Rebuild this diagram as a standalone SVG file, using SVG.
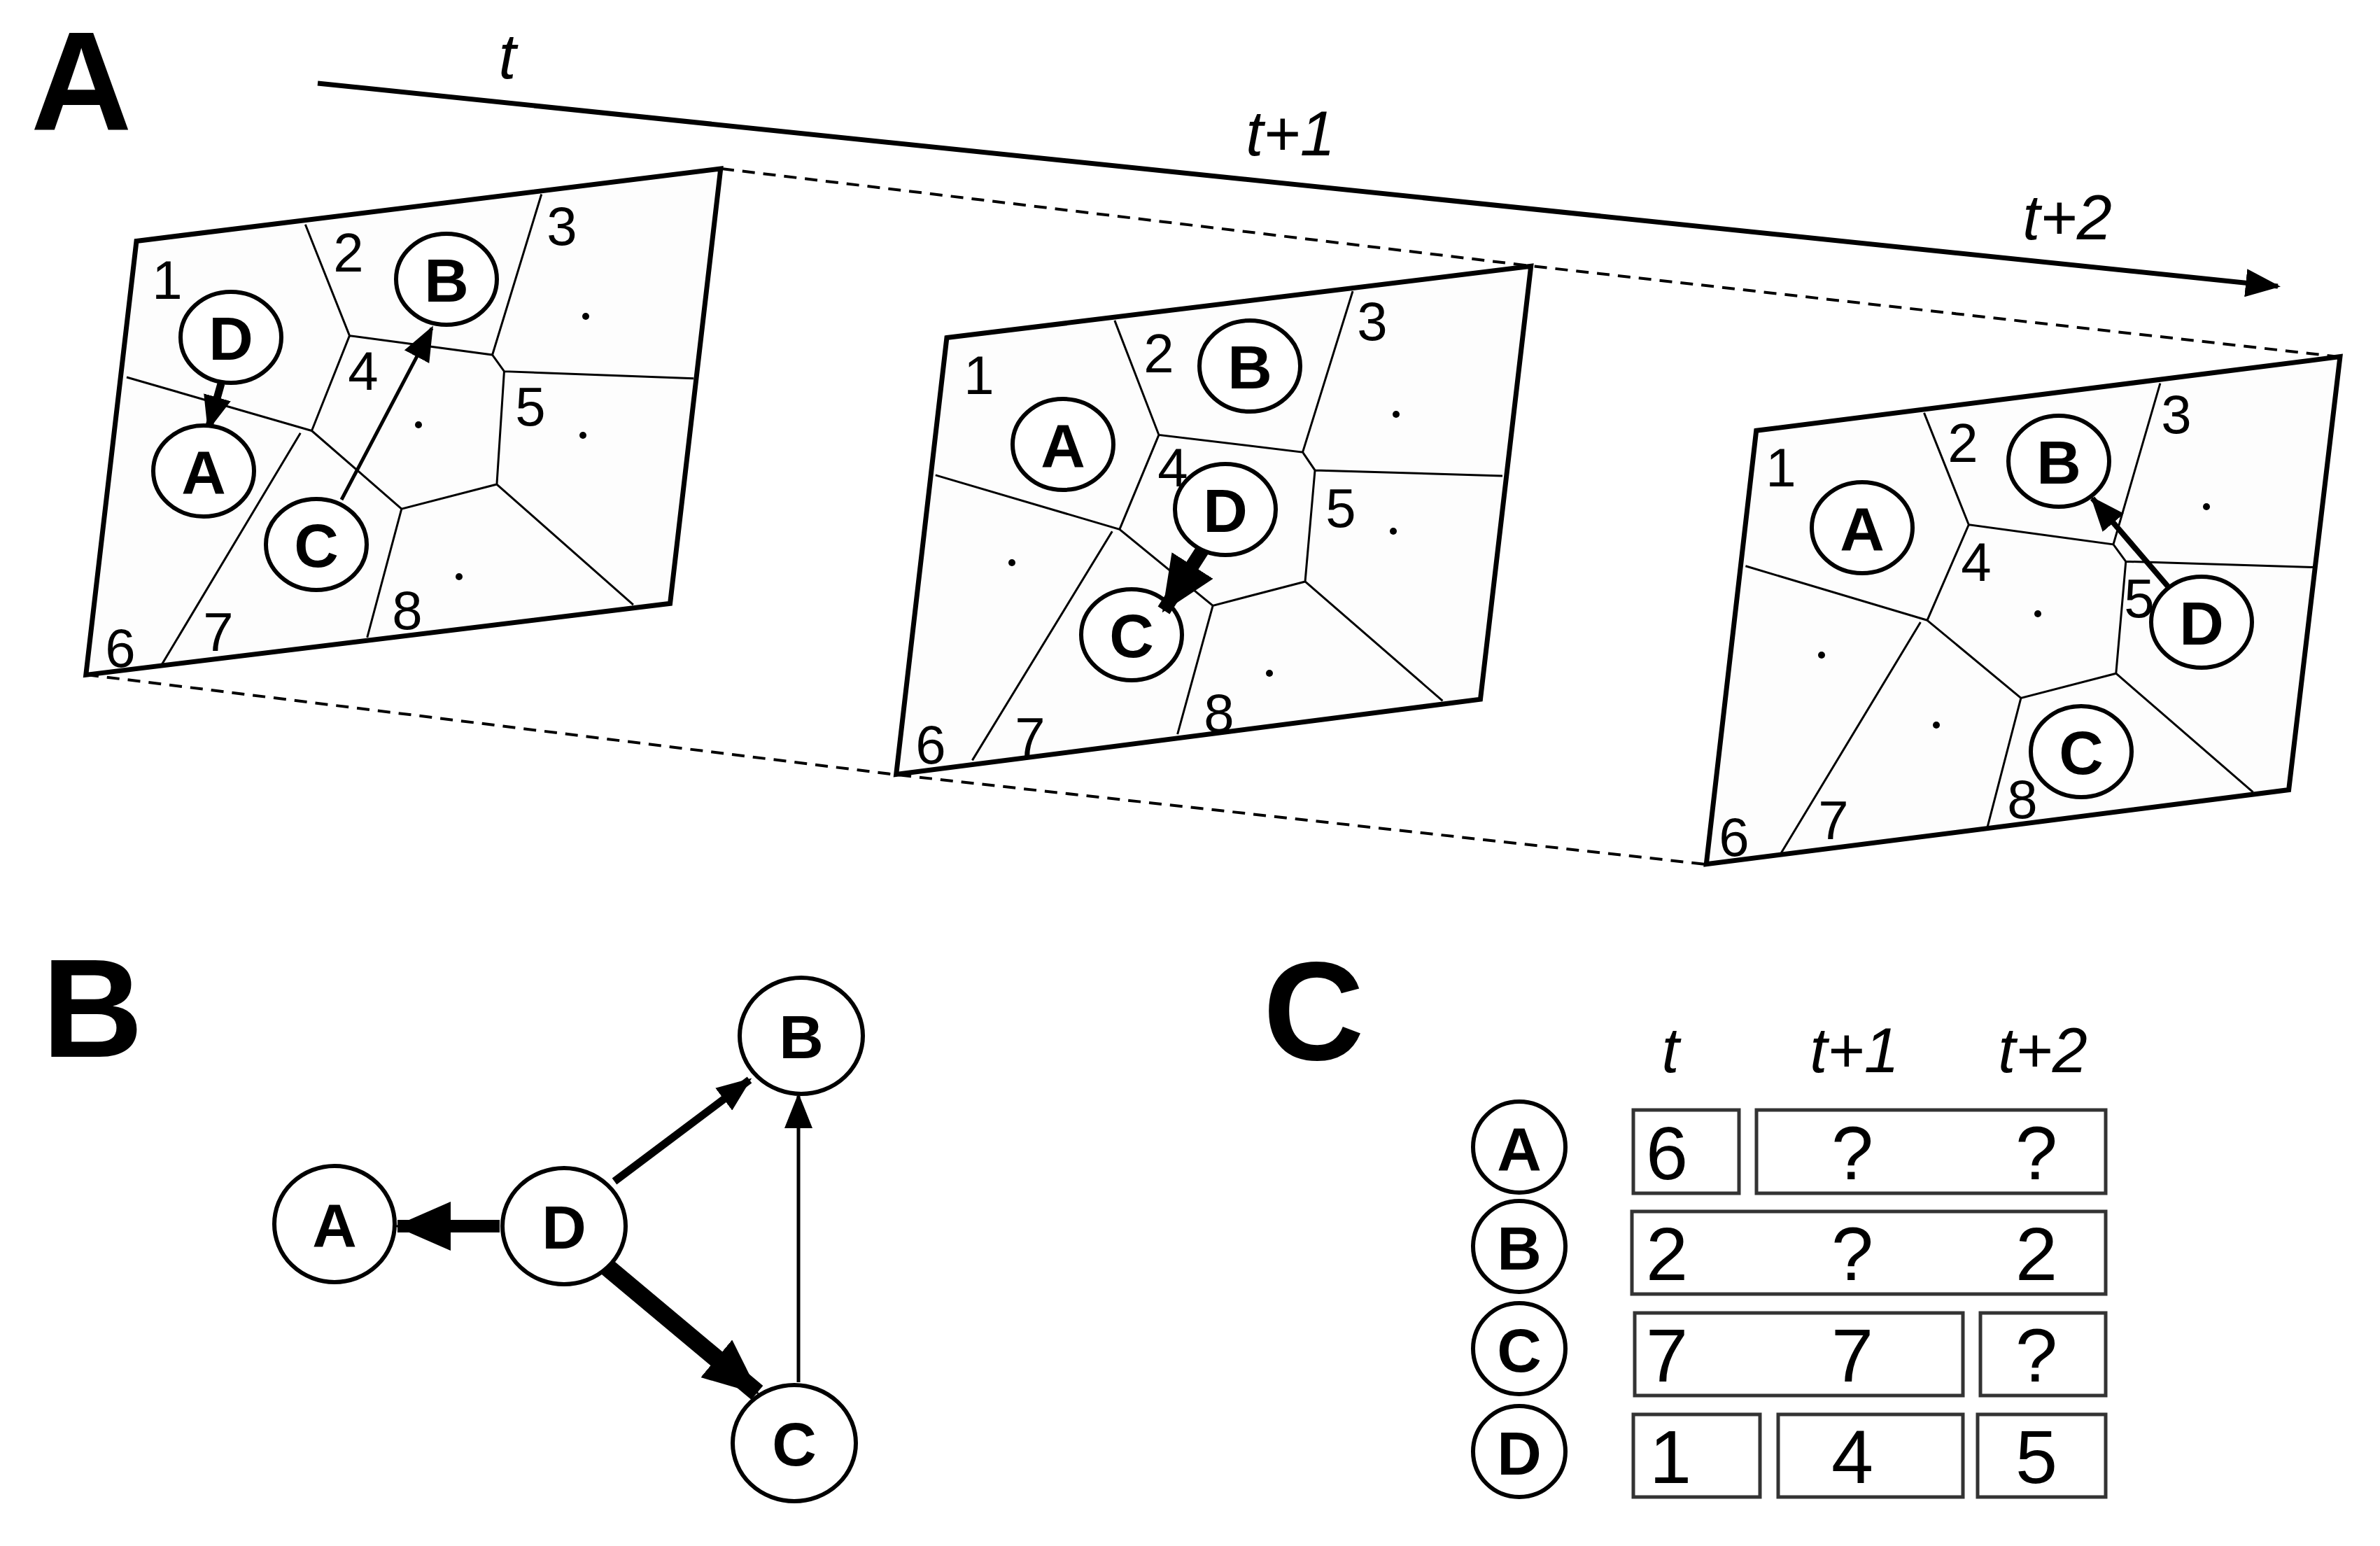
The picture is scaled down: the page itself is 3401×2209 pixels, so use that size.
<svg xmlns="http://www.w3.org/2000/svg" width="3401" height="2209" viewBox="0 0 3401 2209">
<style>
.fr{fill:#fdfdfd;stroke:#000;stroke-width:7;stroke-linejoin:miter}
.vl{fill:none;stroke:#000;stroke-width:3}
.dot{fill:#000}
.num{font-family:"Liberation Sans",Arial,sans-serif;font-size:78px;text-anchor:middle}
.nd{fill:#fff;stroke:#000;stroke-width:6}
.lt{font-family:"Liberation Sans",Arial,sans-serif;font-weight:bold;font-size:88px;text-anchor:middle}
.big{font-family:"Liberation Sans",Arial,sans-serif;font-weight:bold;font-size:200px}
.it{font-family:"Liberation Sans",Arial,sans-serif;font-style:italic;font-size:90px;text-anchor:middle}
.tv{font-family:"Liberation Sans",Arial,sans-serif;font-size:108px;text-anchor:middle}
.bx{fill:#fff;stroke:#333;stroke-width:5}
.ar{stroke:#000;fill:none}
.dash{stroke:#000;stroke-width:4;stroke-dasharray:18 12;fill:none}
</style>
<defs>
<marker id="ah" markerUnits="userSpaceOnUse" markerWidth="50" markerHeight="40" refX="46" refY="20" orient="auto"><path d="M0,0 L50,20 L0,40 Z"/></marker>
<marker id="ahb" markerUnits="userSpaceOnUse" markerWidth="80" markerHeight="70" refX="76" refY="35" orient="auto"><path d="M0,0 L80,35 L0,70 Z"/></marker>
</defs>

<text class="big" x="44" y="185">A</text>
<text class="big" x="60" y="1510">B</text>
<text class="big" x="1805" y="1514">C</text>

<g id="timeline">
<line x1="454" y1="119" x2="3255" y2="409" stroke="#000" stroke-width="7" marker-end="url(#ah)"/>
<text class="it" x="725" y="112">t</text>
<text class="it" x="1844" y="222">t+1</text>
<text class="it" x="2954" y="342">t+2</text>
</g>

<g id="dashes">
<polyline class="dash" points="1031,241 2188,380 3344,510"/>
<polyline class="dash" points="123,964 1281,1107 2438,1235"/>
</g>

<g id="panel-t">
<g transform="scale(0.7015,0.6378)">
<path class="fr" vector-effect="non-scaling-stroke" d="M278,540 L1468,378 L1365,1352 L175,1512 Z"/>
<path class="vl" vector-effect="non-scaling-stroke" d="M622,503 L712,752 L1003,795 L1103,435 M1003,795 L1027,832 L1413,848 M1027,832 L1012,1085 L818,1140 L635,965 L712,752 M1012,1085 L1290,1355 M818,1140 L748,1428 M635,965 L258,845 M612,970 L330,1488"/>
</g>
<circle class="dot" cx="837" cy="452" r="5"/><circle class="dot" cx="598" cy="607" r="5"/><circle class="dot" cx="833" cy="622" r="5"/><circle class="dot" cx="656" cy="824" r="5"/>
<text class="num" x="239" y="427">1</text><text class="num" x="498" y="388">2</text><text class="num" x="803" y="350">3</text><text class="num" x="519" y="557">4</text><text class="num" x="758" y="608">5</text><text class="num" x="172" y="953">6</text><text class="num" x="312" y="930">7</text><text class="num" x="582" y="899">8</text>
<line class="ar" x1="488" y1="714" x2="617" y2="469" stroke-width="5" marker-end="url(#ah)"/>
<line class="ar" x1="316" y1="548" x2="298" y2="612" stroke-width="11" marker-end="url(#ah)"/>
<g id="p1D"><ellipse class="nd" cx="330" cy="482" rx="72" ry="65"/><text class="lt" x="330" y="514">D</text></g>
<g id="p1B"><ellipse class="nd" cx="638" cy="399" rx="72" ry="65"/><text class="lt" x="638" y="431">B</text></g>
<g id="p1A"><ellipse class="nd" cx="291" cy="673" rx="72" ry="65"/><text class="lt" x="291" y="705">A</text></g>
<g id="p1C"><ellipse class="nd" cx="452" cy="778" rx="72" ry="65"/><text class="lt" x="452" y="810">C</text></g>
</g>

<g id="panel-t1">
<g transform="translate(1200,300) scale(0.7015,0.574)">
<path class="fr" vector-effect="non-scaling-stroke" d="M218,318 L1408,140 L1305,1218 L115,1405 Z"/>
<path class="vl" vector-effect="non-scaling-stroke" d="M560,275 L650,560 L943,603 L1045,202 M943,603 L968,648 L1350,662 M968,648 L948,925 L760,985 L570,795 L650,560 M948,925 L1228,1222 M760,985 L688,1305 M570,795 L195,660 M555,800 L270,1370"/>
</g>
<circle class="dot" cx="1995" cy="592" r="5"/><circle class="dot" cx="1991" cy="759" r="5"/><circle class="dot" cx="1446" cy="804" r="5"/><circle class="dot" cx="1814" cy="962" r="5"/>
<text class="num" x="1399" y="563">1</text><text class="num" x="1656" y="532">2</text><text class="num" x="1961" y="486">3</text><text class="num" x="1676" y="695">4</text><text class="num" x="1916" y="753">5</text><text class="num" x="1330" y="1091">6</text><text class="num" x="1472" y="1080">7</text><text class="num" x="1742" y="1046">8</text>
<g id="p2A"><ellipse class="nd" cx="1519" cy="635" rx="72" ry="65"/><text class="lt" x="1519" y="667">A</text></g>
<g id="p2B"><ellipse class="nd" cx="1786" cy="523" rx="72" ry="65"/><text class="lt" x="1786" y="555">B</text></g>
<g id="p2C"><ellipse class="nd" cx="1617" cy="907" rx="72" ry="65"/><text class="lt" x="1617" y="939">C</text></g>
<line class="ar" x1="1722" y1="780" x2="1663" y2="872" stroke-width="20" marker-end="url(#ahb)"/>
<g id="p2D"><ellipse class="nd" cx="1751" cy="728" rx="72" ry="65"/><text class="lt" x="1751" y="760">D</text></g>
</g>

<g id="panel-t2">
<g transform="translate(2400,450) scale(0.6378,0.542)">
<path class="fr" vector-effect="non-scaling-stroke" d="M172,305 L1480,110 L1365,1252 L60,1448 Z"/>
<path class="vl" vector-effect="non-scaling-stroke" d="M548,258 L648,553 L972,605 L1077,180 M972,605 L1000,650 L1420,665 M1000,650 L978,945 L765,1010 L555,805 L648,553 M978,945 L1285,1258 M765,1010 L690,1350 M555,805 L148,662 M540,810 L228,1418"/>
</g>
<circle class="dot" cx="3153" cy="724" r="5"/><circle class="dot" cx="2912" cy="877" r="5"/><circle class="dot" cx="2603" cy="936" r="5"/><circle class="dot" cx="2767" cy="1036" r="5"/>
<text class="num" x="2545" y="695">1</text><text class="num" x="2805" y="660">2</text><text class="num" x="3110" y="619">3</text><text class="num" x="2824" y="830">4</text><text class="num" x="3057" y="882">5</text><text class="num" x="2478" y="1223">6</text><text class="num" x="2620" y="1199">7</text><text class="num" x="2890" y="1169">8</text>
<line class="ar" x1="3098" y1="838" x2="2990" y2="712" stroke-width="8" marker-end="url(#ah)"/>
<g id="p3A"><ellipse class="nd" cx="2661" cy="754" rx="72" ry="65"/><text class="lt" x="2661" y="786">A</text></g>
<g id="p3B"><ellipse class="nd" cx="2942" cy="659" rx="72" ry="65"/><text class="lt" x="2942" y="691">B</text></g>
<g id="p3D"><ellipse class="nd" cx="3146" cy="889" rx="72" ry="65"/><text class="lt" x="3146" y="921">D</text></g>
<g id="p3C"><ellipse class="nd" cx="2974" cy="1074" rx="72" ry="65"/><text class="lt" x="2974" y="1106">C</text></g>
</g>

<g id="graph-edges">
<line class="ar" x1="878" y1="1688" x2="1071" y2="1543" stroke-width="11" marker-end="url(#ah)"/>
<line class="ar" x1="714" y1="1752" x2="568" y2="1752" stroke-width="18" marker-end="url(#ahb)"/>
<line class="ar" x1="867" y1="1810" x2="1082" y2="1990" stroke-width="26" marker-end="url(#ahb)"/>
<line class="ar" x1="1141" y1="1975" x2="1141" y2="1566" stroke-width="5" marker-end="url(#ah)"/>
</g>
<g id="gB"><ellipse class="nd" cx="1145" cy="1480" rx="88" ry="83"/><text class="lt" x="1145" y="1512">B</text></g>
<g id="gA"><ellipse class="nd" cx="478" cy="1749" rx="86" ry="83"/><text class="lt" x="478" y="1781">A</text></g>
<g id="gD"><ellipse class="nd" cx="806" cy="1752" rx="88" ry="83"/><text class="lt" x="806" y="1784">D</text></g>
<g id="gC"><ellipse class="nd" cx="1135" cy="2062" rx="88" ry="83"/><text class="lt" x="1135" y="2094">C</text></g>

<g id="table">
<text class="it" x="2387" y="1532" font-size="100">t</text>
<text class="it" x="2650" y="1532" font-size="100">t+1</text>
<text class="it" x="2919" y="1532" font-size="100">t+2</text>
<g id="tA"><ellipse class="nd" cx="2171" cy="1639" rx="66" ry="65"/><text class="lt" x="2171" y="1672" font-size="96">A</text></g>
<g id="tB"><ellipse class="nd" cx="2171" cy="1781" rx="66" ry="65"/><text class="lt" x="2171" y="1814" font-size="96">B</text></g>
<g id="tC"><ellipse class="nd" cx="2171" cy="1927" rx="66" ry="65"/><text class="lt" x="2171" y="1960" font-size="96">C</text></g>
<g id="tD"><ellipse class="nd" cx="2171" cy="2074" rx="66" ry="65"/><text class="lt" x="2171" y="2107" font-size="96">D</text></g>
<rect class="bx" x="2334" y="1586" width="151" height="119"/><rect class="bx" x="2510" y="1586" width="499" height="119"/>
<rect class="bx" x="2332" y="1731" width="677" height="118"/>
<rect class="bx" x="2336" y="1876" width="469" height="118"/><rect class="bx" x="2830" y="1876" width="179" height="118"/>
<rect class="bx" x="2334" y="2021" width="181" height="118"/><rect class="bx" x="2541" y="2021" width="264" height="118"/><rect class="bx" x="2826" y="2021" width="183" height="118"/>
<text class="tv" x="2382" y="1685">6</text><text class="tv" x="2647" y="1685">?</text><text class="tv" x="2910" y="1685">?</text>
<text class="tv" x="2382" y="1829">2</text><text class="tv" x="2647" y="1829">?</text><text class="tv" x="2910" y="1829">2</text>
<text class="tv" x="2382" y="1974">7</text><text class="tv" x="2647" y="1974">7</text><text class="tv" x="2910" y="1974">?</text>
<text class="tv" x="2387" y="2119">1</text><text class="tv" x="2647" y="2119">4</text><text class="tv" x="2910" y="2119">5</text>
</g>
</svg>
